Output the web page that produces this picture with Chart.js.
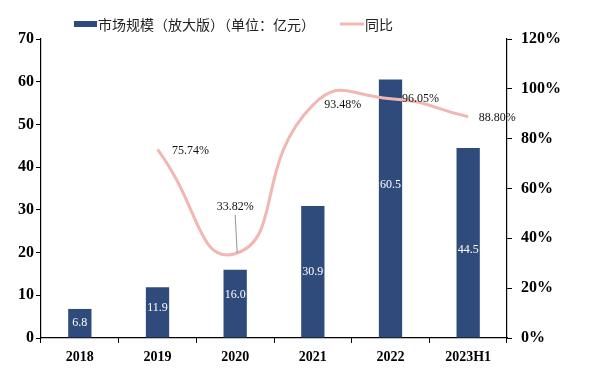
<!DOCTYPE html>
<html>
<head>
<meta charset="utf-8">
<script src="https://cdn.jsdelivr.net/npm/chart.js@4"></script>
<style>
  html, body { margin: 0; padding: 0; background: #fff; }
  #wrap { width: 597px; height: 392px; }
</style>
</head>
<body>
<div id="wrap"><canvas id="marketChart" width="597" height="392"></canvas></div>
<script>
const years = ["2018", "2019", "2020", "2021", "2022", "2023H1"];
const marketSize = [6.8, 11.9, 16.0, 30.9, 60.5, 44.5];
const yoyGrowth = [null, 75.74, 33.82, 93.48, 96.05, 88.80];
const leftTicks = [0, 10, 20, 30, 40, 50, 60, 70];
const rightTicks = [0, 20, 40, 60, 80, 100, 120];

const barColor = "#2F4B7C";
const lineColor = "#F2B6B3";
const serif = "'Liberation Serif', 'Times New Roman', serif";

// hand placed offsets for the labels, like in the original
const barLabelShift = [0, -4, -9, 0, -24, 7];
const lineLabelOffsets = [null, [33, 2], [0, -47], [30, 0], [30, 0], [29, 1]];

const labelPlugin = {
  id: "labels",
  afterDatasetsDraw(chart) {
    const ctx = chart.ctx;
    ctx.save();

    // values inside bars
    const barMeta = chart.getDatasetMeta(0);
    ctx.font = "12px " + serif;
    ctx.fillStyle = "#fff";
    ctx.textAlign = "center";
    ctx.textBaseline = "middle";
    barMeta.data.forEach((bar, i) => {
      const mid = (bar.y + bar.base) / 2 + barLabelShift[i];
      ctx.fillText(marketSize[i].toFixed(1), bar.x, mid);
    });

    // growth labels
    const lineMeta = chart.getDatasetMeta(1);
    ctx.fillStyle = "#111";
    lineMeta.data.forEach((pt, i) => {
      if (yoyGrowth[i] == null) return;
      const off = lineLabelOffsets[i];
      const tx = pt.x + off[0];
      const ty = pt.y + off[1];
      if (i === 2) {
        ctx.strokeStyle = "#777";
        ctx.lineWidth = 0.8;
        ctx.beginPath();
        ctx.moveTo(tx, ty + 8);
        ctx.lineTo(pt.x + 2, pt.y - 1);
        ctx.stroke();
      }
      ctx.fillText(yoyGrowth[i].toFixed(2) + "%", tx, ty);
    });

    // legend
    ctx.textAlign = "left";
    ctx.font = "14px 'Noto Sans CJK SC', sans-serif";
    ctx.fillStyle = barColor;
    ctx.fillRect(74, 21, 23, 6);
    ctx.fillStyle = "#222";
    ctx.fillText("市场规模（放大版）（单位：亿元）", 98, 25);
    ctx.strokeStyle = lineColor;
    ctx.lineWidth = 3;
    ctx.beginPath();
    ctx.moveTo(340, 24);
    ctx.lineTo(364, 24);
    ctx.stroke();
    ctx.fillText("同比", 365, 25);

    ctx.restore();
  }
};

new Chart(document.getElementById("marketChart"), {
  type: "bar",
  data: {
    labels: years,
    datasets: [
      {
        label: "市场规模（放大版）（单位：亿元）",
        data: marketSize,
        backgroundColor: barColor,
        borderWidth: 0,
        categoryPercentage: 1,
        barPercentage: 0.3,
        yAxisID: "y",
        order: 2
      },
      {
        type: "line",
        label: "同比",
        data: yoyGrowth,
        borderColor: lineColor,
        borderWidth: 3,
        tension: 0.55,
        pointRadius: 0,
        fill: false,
        yAxisID: "y1",
        order: 1
      }
    ]
  },
  options: {
    responsive: false,
    animation: false,
    layout: { padding: { top: 39, left: 0, right: 0, bottom: 0 } },
    plugins: {
      legend: { display: false },
      tooltip: { enabled: false }
    },
    scales: {
      x: {
        grid: { display: true, drawOnChartArea: false, offset: true, tickLength: 5, color: "#000" },
        border: { color: "#000", width: 1.2 },
        ticks: { color: "#000", padding: 6, font: { family: serif, size: 14, weight: "bold" } },
        afterFit(scale) { scale.height = 54; }
      },
      y: {
        position: "left",
        min: 0,
        max: 70,
        afterBuildTicks(scale) { scale.ticks = leftTicks.map(v => ({ value: v })); },
        grid: { drawOnChartArea: false, tickLength: 5, color: "#000" },
        border: { color: "#000", width: 1.2 },
        ticks: { color: "#000", padding: 2, font: { family: serif, size: 16, weight: "bold" } },
        afterFit(scale) { scale.width = 41; }
      },
      y1: {
        position: "right",
        min: 0,
        max: 120,
        afterBuildTicks(scale) { scale.ticks = rightTicks.map(v => ({ value: v })); },
        grid: { drawOnChartArea: false, tickLength: 5, color: "#000" },
        border: { color: "#000", width: 1.2 },
        ticks: {
          color: "#000",
          padding: 9,
          font: { family: serif, size: 16, weight: "bold" },
          callback: v => v + "%"
        },
        afterFit(scale) { scale.width = 90; }
      }
    }
  },
  plugins: [labelPlugin]
});
</script>
</body>
</html>
